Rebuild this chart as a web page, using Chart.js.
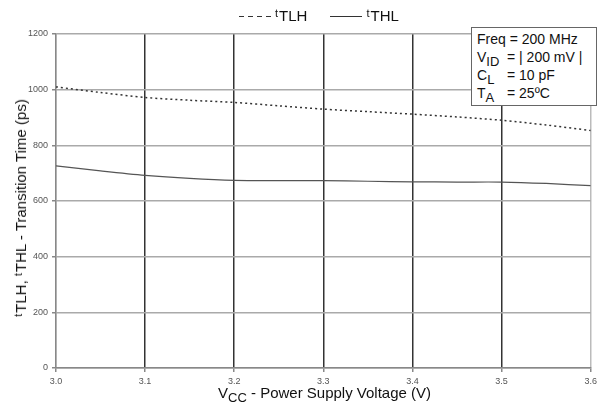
<!DOCTYPE html>
<html>
<head>
<meta charset="utf-8">
<script src="https://cdn.jsdelivr.net/npm/chart.js@4"></script>
<style>
  body { margin: 0; background: #fff; font-family: "Liberation Sans", Arial, sans-serif; }
  #wrap { position: relative; width: 601px; height: 402px; overflow: hidden; }
  #chart { position: absolute; left: 0; top: 0; }
  .lbl { position: absolute; color: #111; font-size: 15px; white-space: nowrap; line-height: 18px; }
  .lbl sub { font-size: 13px; vertical-align: -4px; line-height: 0; }
  .lbl .t { font-size: 11px; vertical-align: 4px; line-height: 0; margin-right: 1px; }
  #legend { left: 239px; top: 7px; }
  #legend span.dash { display: inline-block; width: 32px; height: 1.5px; background: repeating-linear-gradient(to right, #333 0 5px, transparent 5px 9px); vertical-align: 4px; margin-right: 4px; }
  #legend span.solid { display: inline-block; width: 32px; height: 0; border-top: 1px solid #333; vertical-align: 4px; margin: 0 4px 0 23px; }
  #ytitle { left: 21px; top: 208px; transform: translate(-50%, -50%) rotate(-90deg); }
  #xtitle { left: 218px; top: 384px; }
  #note { left: 471px; top: 27px; width: 126px; height: 79px; background: #fff; border: 1px solid #666; padding: 2px 0 0 5px; box-sizing: border-box; font-size: 14px; }
  #note div { height: 18px; line-height: 18px; }
  #note span.k { display: inline-block; width: 30px; }
</style>
</head>
<body>
<div id="wrap">
  <canvas id="chart" width="601" height="402"></canvas>
  <div class="lbl" id="legend"><span class="dash"></span><span class="t">t</span>TLH<span class="solid"></span><span class="t">t</span>THL</div>
  <div class="lbl" id="ytitle"><span class="t">t</span>TLH, <span class="t">t</span>THL - Transition Time (ps)</div>
  <div class="lbl" id="xtitle">V<sub>CC</sub> - Power Supply Voltage (V)</div>
  <div class="lbl" id="note">
    <div>Freq = 200 MHz</div>
    <div><span class="k">V<sub>ID</sub></span>= | 200 mV |</div>
    <div><span class="k">C<sub>L</sub></span>= 10 pF</div>
    <div><span class="k">T<sub>A</sub></span>= 25ºC</div>
  </div>
</div>
<script>
// supply voltage (V)
const vcc = [3.0, 3.05, 3.1, 3.15, 3.2, 3.25, 3.3, 3.35, 3.4, 3.45, 3.5, 3.55, 3.6];
// transition times (ps)
const tTLH = [1010, 990, 972, 962, 954, 942, 930, 921, 912, 902, 890, 873, 853];
const tTHL = [726, 708, 692, 681, 674, 673, 673, 671, 669, 668, 668, 663, 655];
const xTicks = [3.0, 3.1, 3.2, 3.3, 3.4, 3.5, 3.6];
const yTicks = [0, 200, 400, 600, 800, 1000, 1200];

const toPoints = arr => arr.map((v, i) => ({ x: vcc[i], y: v }));

new Chart(document.getElementById('chart').getContext('2d'), {
  type: 'line',
  data: {
    datasets: [{
      label: 'tTLH',
      data: toPoints(tTLH),
      borderColor: '#333',
      borderWidth: 1.5,
      borderDash: [2, 3],
      pointRadius: 0,
      tension: 0.3
    }, {
      label: 'tTHL',
      data: toPoints(tTHL),
      borderColor: '#555',
      borderWidth: 1.2,
      pointRadius: 0,
      tension: 0.3
    }]
  },
  options: {
    responsive: false,
    animation: false,
    layout: { padding: { top: 34, right: 6, left: 0, bottom: 0 } },
    plugins: { legend: { display: false }, tooltip: { enabled: false } },
    scales: {
      x: {
        type: 'linear',
        min: 3.0,
        max: 3.6,
        afterBuildTicks: axis => { axis.ticks = xTicks.map(v => ({ value: v })); },
        afterFit: axis => { axis.height = 34; },
        ticks: {
          font: { family: 'Liberation Sans', size: 9 },
          color: '#555',
          padding: 4,
          maxRotation: 0,
          callback: v => v.toFixed(1)
        },
        grid: {
          color: ctx => (ctx.index === 0 || ctx.index === xTicks.length - 1) ? '#bbb' : '#333',
          lineWidth: 1.5,
          tickLength: 4,
          tickColor: '#888'
        },
        border: { color: '#888', width: 1.5 }
      },
      y: {
        min: 0,
        max: 1200,
        afterBuildTicks: axis => { axis.ticks = yTicks.map(v => ({ value: v })); },
        afterFit: axis => { axis.width = 56; },
        ticks: {
          font: { family: 'Liberation Sans', size: 9 },
          color: '#555',
          padding: 4,
          callback: v => String(v)
        },
        grid: {
          color: '#aaa',
          lineWidth: 1.5,
          tickLength: 4,
          tickColor: '#888'
        },
        border: { color: '#888', width: 1.5 }
      }
    }
  }
});
</script>
</body>
</html>
